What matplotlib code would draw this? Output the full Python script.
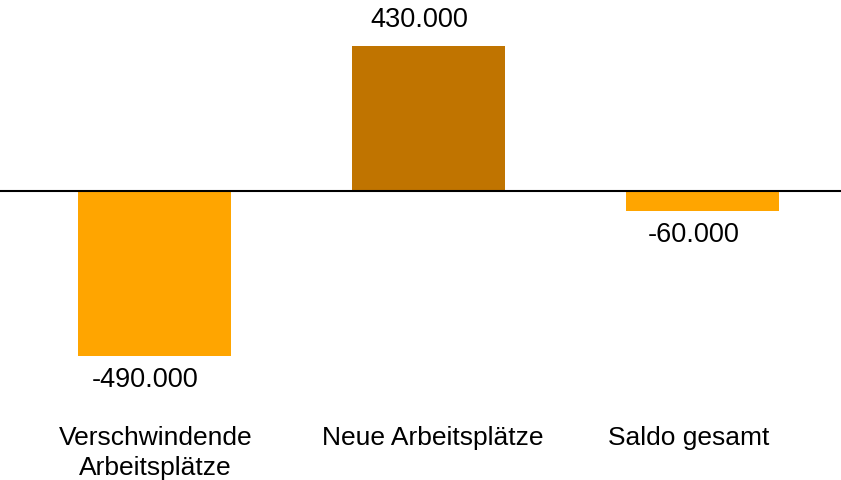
import matplotlib.pyplot as plt

# --- Data ----------------------------------------------------------------
categories = ["Verschwindende\nArbeitsplätze", "Neue Arbeitsplätze", "Saldo gesamt"]
values = [-490000, 430000, -60000]
value_labels = ["-490.000", "430.000", "-60.000"]
colors = ["#FFA500", "#C07400", "#FFA500"]

plt.rcParams["font.family"] = ["Liberation Sans", "DejaVu Sans"]

fig = plt.figure(figsize=(8.41, 4.80), dpi=100)
ax = fig.add_axes([0, 0, 1, 1])

x = range(len(values))
ax.bar(x, values, width=0.557, color=colors, zorder=1)
ax.axhline(0, color="black", lw=1.5, zorder=2)

# value labels (baseline placed relative to bar end)
for xi, v, lab in zip(x, values, value_labels):
    off = 19 if v > 0 else -31
    ax.annotate(lab, (xi, v), xytext=(-9, off), textcoords="offset pixels",
                ha="center", va="baseline", fontsize=19.5)

# category labels below the plot, one line at a time
cat_dx = [1, 4, -14]   # small horizontal nudges seen in the original
for xi, cat, dx in zip(x, categories, cat_dx):
    for i, line in enumerate(cat.split("\n")):
        ax.annotate(line, (xi, 0), xycoords=("data", "figure pixels"),
                    xytext=(dx, 480 - 445 - 30 * i), textcoords="offset pixels",
                    ha="center", va="baseline", fontsize=19)

ax.set_xlim(-0.564, 2.505)
ax.set_ylim(-860000, 568000)
ax.axis("off")

fig.savefig("out.png", dpi=100)
